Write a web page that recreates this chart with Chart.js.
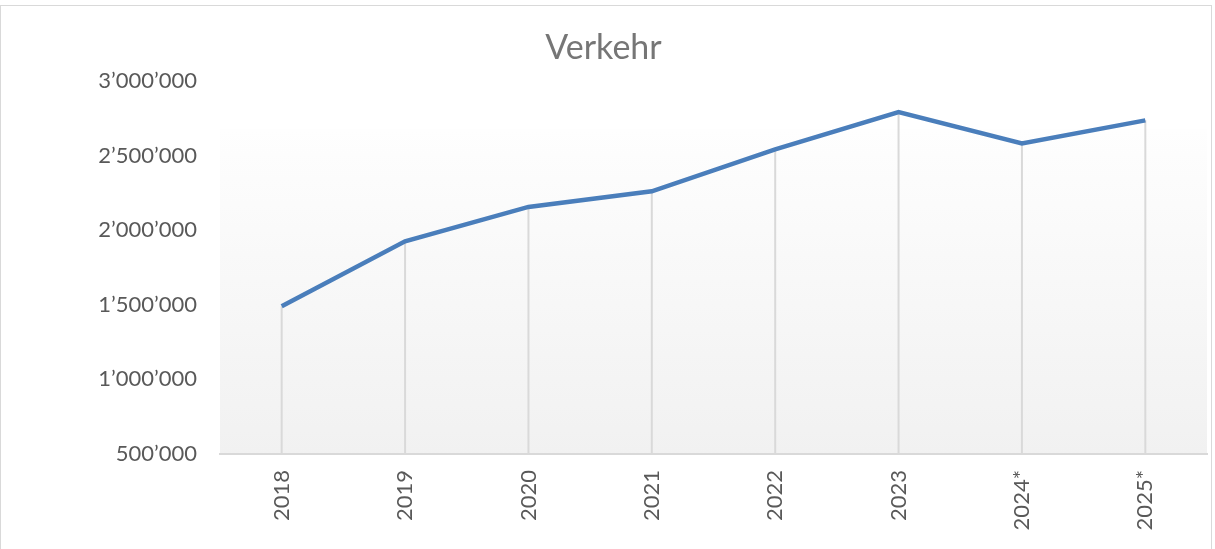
<!DOCTYPE html>
<html>
<head>
<meta charset="utf-8">
<script src="https://cdn.jsdelivr.net/npm/chart.js@4"></script>
<style>
  body { margin: 0; background: #fff; }
  #rahmen { position: absolute; left: 0; top: 5px; width: 1212px; height: 545px; border: 1px solid #d9d9d9; box-sizing: border-box; }
  #wrap { position: absolute; left: 0; top: 0; width: 1215px; height: 549px; }
</style>
</head>
<body>
<div id="rahmen"></div>
<div id="wrap"><canvas id="myChart" width="1215" height="549"></canvas></div>
<script>
// Daten
const jahre = ['2018', '2019', '2020', '2021', '2022', '2023', '2024*', '2025*'];
const verkehr = [1490000, 1925000, 2155000, 2260000, 2540000, 2790000, 2580000, 2735000];
const yTicks = [500000, 1000000, 1500000, 2000000, 2500000, 3000000];

function formatZahl(v) {
    return String(v).replace(/\B(?=(\d{3})+(?!\d))/g, '\u2019');
}

// Hintergrund der Zeichenflaeche (Verlauf)
const hintergrund = {
    id: 'hintergrund',
    beforeDraw(chart) {
        const a = chart.chartArea;
        const ctx = chart.ctx;
        const top = a.top + (a.bottom - a.top) * 0.13;
        const grad = ctx.createLinearGradient(0, top, 0, a.bottom);
        grad.addColorStop(0, '#fefefe');
        grad.addColorStop(1, '#f1f1f1');
        ctx.save();
        ctx.fillStyle = grad;
        ctx.fillRect(a.left, top, a.right - a.left, a.bottom - top);
        ctx.restore();
    }
};

// senkrechte Linien von den Punkten zur Achse
const lotLinien = {
    id: 'lotLinien',
    beforeDatasetsDraw(chart) {
        const ctx = chart.ctx;
        const meta = chart.getDatasetMeta(0);
        const unten = chart.chartArea.bottom;
        ctx.save();
        ctx.strokeStyle = '#d9d9d9';
        ctx.lineWidth = 2;
        meta.data.forEach(function (p) {
            ctx.beginPath();
            ctx.moveTo(p.x, p.y);
            ctx.lineTo(p.x, unten);
            ctx.stroke();
        });
        ctx.restore();
    }
};

const ctx = document.getElementById('myChart');
new Chart(ctx, {
    type: 'line',
    data: {
        labels: jahre,
        datasets: [{
            label: 'Verkehr',
            data: verkehr,
            borderColor: '#4a7ebb',
            borderWidth: 4.5,
            pointRadius: 0,
            tension: 0,
            fill: false
        }]
    },
    options: {
        responsive: false,
        animation: false,
        layout: { padding: { top: 28, right: 8, left: 0, bottom: 0 } },
        plugins: {
            legend: { display: false },
            tooltip: { enabled: false },
            title: {
                display: true,
                text: 'Verkehr',
                color: '#767676',
                font: { family: 'Lato', size: 34, weight: 'normal' },
                padding: { top: 0, bottom: 12 }
            }
        },
        scales: {
            x: {
                offset: true,
                grid: { display: false, drawTicks: false },
                border: { display: true, color: '#d9d9d9', width: 2 },
                ticks: {
                    color: '#595959',
                    font: { family: 'Lato', size: 22 },
                    minRotation: 90,
                    maxRotation: 90,
                    padding: 16
                },
                afterFit(scale) { scale.height = 95; }
            },
            y: {
                min: 500000,
                max: 3000000,
                afterBuildTicks(scale) {
                    scale.ticks = yTicks.map(v => ({ value: v }));
                },
                grid: { display: false, drawTicks: false },
                border: { display: false },
                ticks: {
                    color: '#595959',
                    font: { family: 'Lato', size: 22 },
                    padding: 23,
                    callback: function (v) { return formatZahl(v); }
                },
                afterFit(scale) { scale.width = 220; }
            }
        }
    },
    plugins: [hintergrund, lotLinien]
});
</script>
</body>
</html>
